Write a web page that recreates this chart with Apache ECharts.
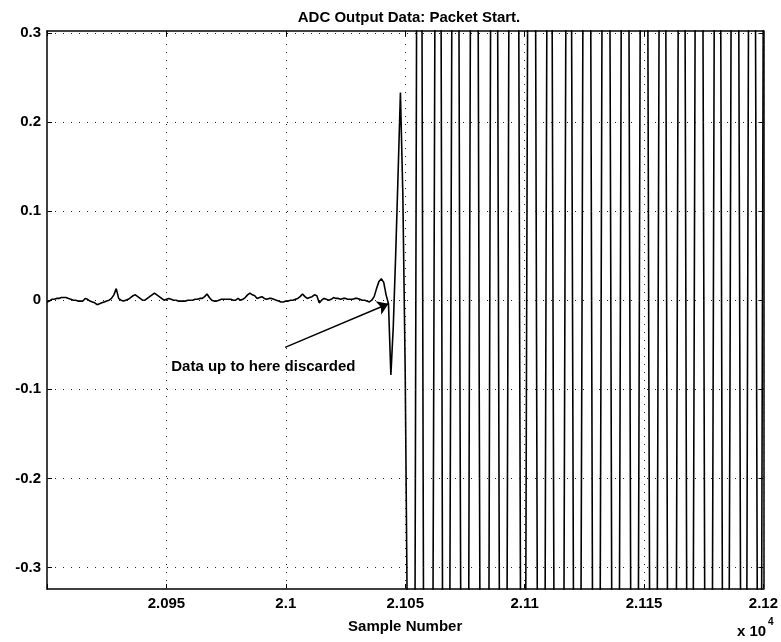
<!DOCTYPE html>
<html>
<head>
<meta charset="utf-8">
<title>ADC Output Data: Packet Start.</title>
<script src="https://cdn.jsdelivr.net/npm/echarts@6/dist/echarts.min.js"></script>
<style>
  html, body { margin: 0; padding: 0; background: #fff; }
  #chart { width: 781px; height: 642px; }
</style>
</head>
<body>
<div id="chart"></div>
<script>
// ADC samples, one value per sample index starting at firstSample
const firstSample = 20900;
const adcValues = [
  -0.002, -0.001, 0.001, 0.001, 0.002, 0.002, 0.003, 0.003, 0.003, 0.002,
  0.001, 0.000, 0.000, -0.001, -0.001, -0.001, 0.002, 0.001, -0.001, -0.002,
  -0.003, -0.005, -0.004, -0.003, -0.002, -0.001, 0.000, 0.002, 0.006, 0.013,
  0.002, 0.000, -0.001, 0.000, 0.001, 0.003, 0.005, 0.006, 0.004, 0.002,
  0.000, 0.000, 0.002, 0.004, 0.006, 0.008, 0.006, 0.004, 0.002, 0.000,
  0.001, 0.002, 0.001, 0.000, 0.000, -0.001, -0.001, -0.001, -0.001, 0.000,
  0.000, 0.000, 0.001, 0.001, 0.002, 0.002, 0.004, 0.007, 0.003, 0.000,
  -0.001, -0.001, 0.000, 0.001, 0.001, 0.001, 0.001, 0.001, 0.000, 0.000,
  0.002, 0.000, 0.001, 0.003, 0.006, 0.008, 0.006, 0.005, 0.002, 0.003,
  0.004, 0.002, 0.001, 0.002, 0.002, 0.001, 0.000, -0.001, -0.002, -0.002,
  -0.001, -0.001, 0.000, 0.000, 0.001, 0.002, 0.004, 0.007, 0.004, 0.002,
  0.003, 0.004, 0.006, 0.005, -0.003, 0.000, 0.002, 0.001, 0.000, 0.001,
  0.003, 0.002, 0.002, 0.001, 0.002, 0.002, 0.001, 0.001, 0.001, 0.002,
  0.002, 0.001, 0.000, 0.000, -0.001, -0.002, 0.000, 0.004, 0.013, 0.021,
  0.024, 0.020, 0.006, -0.004, -0.084, -0.030, 0.050, 0.140, 0.233, 0.120,
  -0.080, -0.400, -0.85, -1.05, -0.45, 0.55, 1.0, 0.35, -0.7, -1.15,
  -1.2, -0.85, -0.05, 0.8, 1.1, 0.35, -0.75, -1.2, -0.9, -0.1,
  0.7, 1.2, 0.8, -0.15, -0.9, -1.25, -0.95, 0.05, 0.95, 1.3,
  0.85, -0.1, -0.95, -1.3, -1.1, -0.4, 0.55, 1.2, 1.0, 0.05,
  -0.85, -1.3, -0.9, -0.05, 0.85, 1.25, 1.2, 0.85, -0.1, -0.95,
  -0.75, 0.1, 0.95, 1.3, 0.9, -0.05, -0.95, -1.3, -0.9, 0.05,
  0.9, 0.8, -0.1, -0.95, -1.3, -1.25, -0.75, 0.1, 0.9, 0.85,
  0.05, -0.8, -1.25, -0.8, -0.05, 0.85, 1.3, 0.95, 0.05, -0.85,
  -1.3, -0.9, -0.05, 0.85, 1.3, 0.95, 0.1, -0.8, -1.25, -0.95,
  -0.1, 0.8, 1.25, 0.95, 0.05, -0.85, -1.3, -0.9, -0.05, 0.85,
  1.3, 0.9, -0.05, -0.9, -1.3, -0.85, 0.05, 0.9, 1.2, 0.45,
  -0.5, -1.2, -1.25, -0.85, 0.05, 0.9, 1.25, 0.5, -0.45, -1.2,
  -0.85, -0.05, 0.85, 1.3, 0.9, 0.05, -0.85, -1.3, -0.9, -0.05,
  0.85, 1.25, 0.45, -0.5, -1.2, -0.85, -0.1, 0.8, 1.3, 0.9,
  0.05, -0.85, -1.2, -0.4, 0.55, 1.2, 0.9, 0.05, -0.85, -0.6,
  0.4
];

// Axis ranges and tick positions
const xRange = [20900, 21200];
const xTicks = [20950, 21000, 21050, 21100, 21150, 21200];
const yRange = [-0.324, 0.302];
const yTicks = [-0.3, -0.2, -0.1, 0, 0.1, 0.2, 0.3];

// Annotation: where the packet is cut
const cutSample = 21043;
const cutValue = -0.004;
const noteTail = [20999.7, -0.053];
const noteText = 'Data up to here discarded';
const notePos = [20990.6, -0.075];

const FONT = '"Liberation Sans", Arial, Helvetica, sans-serif';
const series = adcValues.map((v, i) => [firstSample + i, v]);

const gridDots = { color: '#222', width: 1, type: [1, 7] };
const gridLines = [];
xTicks.forEach(x => gridLines.push({ xAxis: x }));
yTicks.forEach(y => gridLines.push({ yAxis: y }));

const chart = echarts.init(document.getElementById('chart'), null, { renderer: 'canvas' });

const axisLineStyle = { show: true, onZero: false, lineStyle: { color: '#000', width: 1.5 } };
const tickStyle = { show: true, inside: true, length: 5, lineStyle: { color: '#000', width: 1 } };
const textStyle = { fontFamily: FONT, fontSize: 15, fontWeight: 'bold', color: '#000' };

chart.setOption({
  animation: false,
  backgroundColor: '#fff',
  title: {
    text: 'ADC Output Data: Packet Start.',
    left: 404,
    top: 5,
    textAlign: 'center',
    textStyle: textStyle
  },
  grid: { left: 47, right: 17, top: 31, bottom: 53, containLabel: false },
  xAxis: [
    {
      type: 'value', min: xRange[0], max: xRange[1], interval: 50, position: 'bottom',
      axisLine: axisLineStyle,
      axisTick: tickStyle,
      splitLine: { show: false },
      axisLabel: Object.assign({
        margin: 7,
        formatter: v => (v === xRange[0] ? '' : String(+(v / 1e4).toFixed(4)))
      }, textStyle),
      name: 'Sample Number', nameLocation: 'middle', nameGap: 30,
      nameTextStyle: textStyle
    },
    {
      type: 'value', min: xRange[0], max: xRange[1], interval: 50, position: 'top',
      axisLine: axisLineStyle, axisTick: tickStyle,
      axisLabel: { show: false }, splitLine: { show: false }
    }
  ],
  yAxis: [
    {
      type: 'value', min: yRange[0], max: yRange[1], position: 'left',
      axisLine: axisLineStyle,
      axisTick: Object.assign({ customValues: yTicks }, tickStyle),
      splitLine: { show: false },
      axisLabel: Object.assign({
        customValues: yTicks, margin: 6,
        formatter: v => String(Math.round(v * 10) / 10)
      }, textStyle)
    },
    {
      type: 'value', min: yRange[0], max: yRange[1], position: 'right',
      axisLine: axisLineStyle,
      axisTick: Object.assign({ customValues: yTicks }, tickStyle),
      axisLabel: { show: false }, splitLine: { show: false }
    }
  ],
  series: [
    {
      name: 'grid',
      type: 'line',
      data: [],
      silent: true,
      z: 1,
      markLine: {
        silent: true, symbol: 'none', animation: false,
        label: { show: false },
        lineStyle: gridDots,
        data: gridLines
      }
    },
    {
      name: 'ADC output',
      type: 'line',
      data: series,
      showSymbol: false,
      clip: true,
      z: 3,
      lineStyle: { color: '#000', width: 1.6 },
      markLine: {
        silent: true, animation: false,
        symbol: ['none', 'arrow'], symbolSize: 11,
        label: { show: false },
        itemStyle: { color: '#000' },
        lineStyle: { color: '#000', width: 1.4, type: 'solid' },
        data: [[{ coord: noteTail }, { coord: [cutSample, cutValue] }]]
      },
      markPoint: {
        silent: true, animation: false,
        symbol: 'circle', symbolSize: 1,
        itemStyle: { color: 'rgba(0,0,0,0)' },
        label: Object.assign({ show: true, position: 'inside', formatter: noteText }, textStyle),
        data: [{ coord: notePos }]
      }
    }
  ],
  graphic: [
    { type: 'text', left: 737, top: 624, style: { text: 'x 10', fontFamily: FONT, fontSize: 15, fontWeight: 'bold', fill: '#000' } },
    { type: 'text', left: 768, top: 617, style: { text: '4', fontFamily: FONT, fontSize: 10, fontWeight: 'bold', fill: '#000' } }
  ]
});
</script>
</body>
</html>
